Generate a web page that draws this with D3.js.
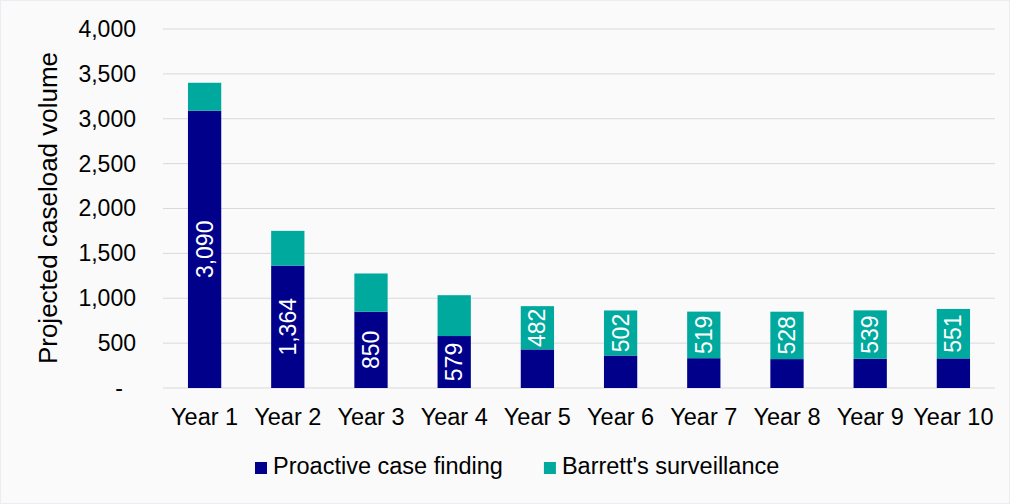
<!DOCTYPE html>
<html>
<head>
<meta charset="utf-8">
<script src="https://cdn.jsdelivr.net/npm/d3@7"></script>
<style>
  html, body { margin: 0; padding: 0; background: #fff; }
  svg { display: block; font-family: "Liberation Sans", Arial, sans-serif; }
</style>
</head>
<body>
<div id="chart"></div>
<script>
// Data
const years = ["Year 1", "Year 2", "Year 3", "Year 4", "Year 5", "Year 6", "Year 7", "Year 8", "Year 9", "Year 10"];
const proactive = [3090, 1364, 850, 579, 430, 362, 332, 322, 326, 330];
const barretts = [311, 387, 426, 455, 482, 502, 519, 528, 539, 551];
// which segments carry a value label
const proactiveLabelled = [true, true, true, true, false, false, false, false, false, false];
const barrettsLabelled = [false, false, false, false, true, true, true, true, true, true];
const yTicks = [0, 500, 1000, 1500, 2000, 2500, 3000, 3500, 4000];
const seriesNames = ["Proactive case finding", "Barrett's surveillance"];

const width = 1024, height = 504;
const margin = {top: 29, right: 29, bottom: 116, left: 163};
const colors = ["#00008b", "#00a99d"];
const fontSize = 23;
const labelFontSize = 23.5;

const svg = d3.select("#chart").append("svg")
  .attr("width", width)
  .attr("height", height);

// light panel behind the chart
svg.append("rect")
  .attr("x", 0.5).attr("y", 0.5)
  .attr("width", 1009).attr("height", height - 1)
  .attr("fill", "#fafafa")
  .attr("stroke", "#ececf2");

const x = d3.scaleBand()
  .domain(years)
  .range([margin.left, width - margin.right])
  .paddingInner(0.6)
  .paddingOuter(0.3);

const y = d3.scaleLinear()
  .domain([0, 4000])
  .range([height - margin.bottom, margin.top]);

// gridlines
svg.append("g")
  .selectAll("line")
  .data(yTicks)
  .join("line")
  .attr("x1", margin.left)
  .attr("x2", width - margin.right)
  .attr("y1", d => y(d))
  .attr("y2", d => y(d))
  .attr("stroke", "#d9d9d9")
  .attr("stroke-width", 1);

// y axis
const yAxis = svg.append("g")
  .attr("transform", `translate(${margin.left},0)`)
  .call(d3.axisLeft(y)
    .tickValues(yTicks)
    .tickSize(0)
    .tickPadding(27)
    .tickFormat(d => d === 0 ? "-" : d3.format(",")(d)));
yAxis.select(".domain").remove();
yAxis.selectAll("text")
  .attr("font-size", fontSize)
  .attr("font-family", "Liberation Sans, Arial, sans-serif")
  .attr("fill", "#000")
  .attr("dx", d => d === 0 ? -13 : 0);

// x axis
const xAxis = svg.append("g")
  .attr("transform", `translate(0,${y(0)})`)
  .call(d3.axisBottom(x).tickSize(0).tickPadding(20));
xAxis.select(".domain").remove();
xAxis.selectAll("text")
  .attr("font-size", labelFontSize)
  .attr("font-family", "Liberation Sans, Arial, sans-serif")
  .attr("fill", "#000");

// stacked bars
const rows = years.map((yr, i) => ({year: yr, proactive: proactive[i], barretts: barretts[i], i}));
const stack = d3.stack().keys(["proactive", "barretts"]);
const layers = stack(rows);
const labelFlags = [proactiveLabelled, barrettsLabelled];

layers.forEach((layer, k) => {
  svg.append("g")
    .attr("fill", colors[k])
    .selectAll("rect")
    .data(layer)
    .join("rect")
    .attr("x", d => x(d.data.year))
    .attr("width", x.bandwidth())
    .attr("y", d => y(d[1]))
    .attr("height", d => y(d[0]) - y(d[1]));

  // value labels, rotated inside the segments
  svg.append("g")
    .selectAll("text")
    .data(layer.filter(d => labelFlags[k][d.data.i]))
    .join("text")
    .attr("transform", d => {
      const cx = x(d.data.year) + x.bandwidth() / 2;
      const cy = (y(d[0]) + y(d[1])) / 2;
      return `translate(${cx},${cy}) rotate(-90)`;
    })
    .attr("text-anchor", "middle")
    .attr("dy", "0.35em")
    .attr("font-size", fontSize)
    .attr("fill", "#fff")
    .text(d => d3.format(",")(d[1] - d[0]));
});

// y axis title
svg.append("text")
  .attr("transform", `translate(57,208) rotate(-90)`)
  .attr("text-anchor", "middle")
  .attr("font-size", 26)
  .attr("fill", "#000")
  .text("Projected caseload volume");

// legend
const legend = svg.append("g");
let lx = 255;
seriesNames.forEach((name, k) => {
  legend.append("rect")
    .attr("x", lx).attr("y", 462)
    .attr("width", 12).attr("height", 12)
    .attr("fill", colors[k]);
  const t = legend.append("text")
    .attr("x", lx + 18).attr("y", 474)
    .attr("font-size", labelFontSize)
    .attr("fill", "#000")
    .text(name);
  lx += 18 + t.node().getComputedTextLength() + 41;
});
</script>
</body>
</html>
